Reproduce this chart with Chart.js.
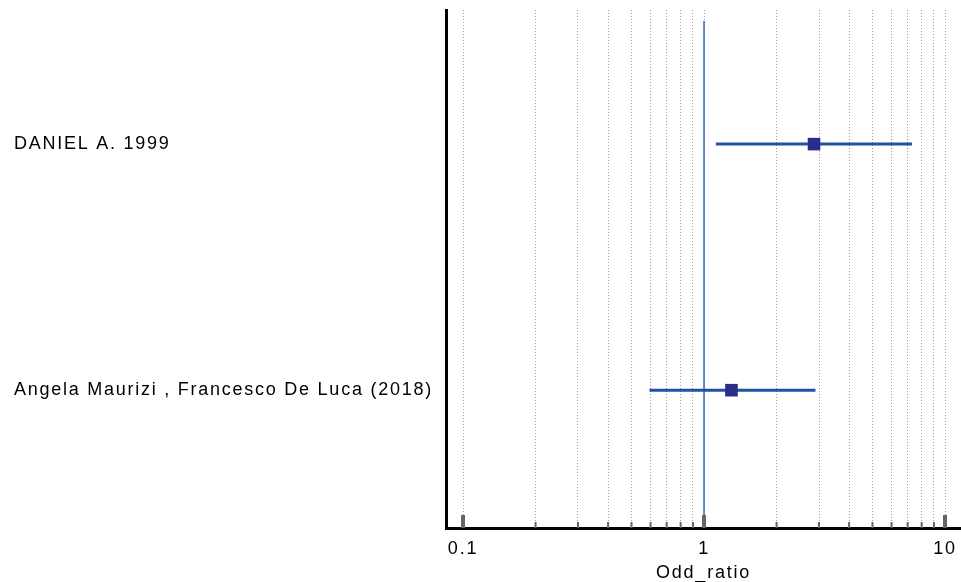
<!DOCTYPE html>
<html>
<head>
<meta charset="utf-8">
<script src="https://cdn.jsdelivr.net/npm/chart.js@4"></script>
<style>
  html, body { margin: 0; padding: 0; background: #fff; }
</style>
</head>
<body>
<canvas id="forest" width="961" height="582"></canvas>
<script>
// data
var studies = ['DANIEL A. 1999', 'Angela Maurizi , Francesco De Luca (2018)'];
var rowPos = [2, 1];
var oddRatio = [2.86, 1.30];
var ciLow = [1.12, 0.594];
var ciHigh = [7.3, 2.90];
var xTicks = [0.1, 0.2, 0.3, 0.4, 0.5, 0.6, 0.7, 0.8, 0.9, 1, 2, 3, 4, 5, 6, 7, 8, 9, 10];
var xLabels = ['0.1', '1', '10'];
var refValue = 1;

var lineColor = '#2152a0';
var boxColor = '#2b2d8a';
var fontFam = '"Liberation Sans", Arial, sans-serif';

var datasets = [];
// vertical line of no effect
datasets.push({
    data: [{ x: refValue, y: 0.44 }, { x: refValue, y: 2.5 }],
    showLine: true,
    borderColor: '#3b63c4',
    borderWidth: 1.5,
    pointRadius: 0,
    order: 3
});
// confidence intervals
for (var i = 0; i < studies.length; i++) {
    datasets.push({
        data: [{ x: ciLow[i], y: rowPos[i] }, { x: ciHigh[i], y: rowPos[i] }],
        showLine: true,
        borderColor: lineColor,
        borderWidth: 3,
        pointRadius: 0,
        order: 2
    });
}
// point estimates
datasets.push({
    data: oddRatio.map(function (v, i) { return { x: v, y: rowPos[i] }; }),
    pointStyle: 'rect',
    pointRadius: 8.9,
    pointBackgroundColor: boxColor,
    pointBorderColor: boxColor,
    pointBorderWidth: 0,
    order: 1
});

// the original text is drawn wide, so space the letters a bit
var wideText = {
    id: 'wideText',
    beforeDraw: function (chart) {
        chart.ctx.letterSpacing = '1.75px';
    }
};

// inward tick marks on the x axis
var innerTicks = {
    id: 'innerTicks',
    afterDatasetsDraw: function (chart) {
        var ctx = chart.ctx;
        var xs = chart.scales.x;
        var bottom = chart.chartArea.bottom;
        ctx.save();
        ctx.fillStyle = '#666';
        xTicks.forEach(function (v) {
            var px = xs.getPixelForValue(v);
            if (xLabels.indexOf(String(v)) >= 0) {
                ctx.fillRect(px - 2, bottom - 13, 4, 13);
            } else {
                ctx.fillRect(px - 1, bottom - 6, 2, 6);
            }
        });
        ctx.restore();
    }
};

var ctx = document.getElementById('forest').getContext('2d');
var chart = new Chart(ctx, {
    type: 'scatter',
    data: { datasets: datasets },
    plugins: [wideText, innerTicks],
    options: {
        responsive: false,
        animation: false,
        devicePixelRatio: 1,
        layout: {
            autoPadding: false,
            padding: { left: 14, top: 10, right: 0, bottom: 0 }
        },
        plugins: {
            legend: { display: false },
            tooltip: { enabled: false }
        },
        scales: {
            x: {
                type: 'logarithmic',
                min: 0.085,
                max: 11.65,
                afterBuildTicks: function (scale) {
                    scale.ticks = xTicks.map(function (v) { return { value: v }; });
                },
                afterFit: function (scale) {
                    scale.height = 54;
                    scale.paddingLeft = 0;
                    scale.paddingRight = 0;
                },
                grid: {
                    drawTicks: false,
                    color: '#a0a0a0',
                    lineWidth: 1
                },
                border: { display: true, color: '#000', width: 3, dash: [1, 2] },
                ticks: {
                    autoSkip: false,
                    maxRotation: 0,
                    padding: 10,
                    color: '#000',
                    font: { family: fontFam, size: 18 },
                    callback: function (v) {
                        var s = String(v);
                        return xLabels.indexOf(s) >= 0 ? s : '';
                    }
                },
                title: {
                    display: true,
                    text: 'Odd_ratio',
                    color: '#000',
                    font: { family: fontFam, size: 18 },
                    padding: { top: 0, bottom: -2 }
                }
            },
            y: {
                type: 'linear',
                min: 0.44,
                max: 2.545,
                afterBuildTicks: function (scale) {
                    scale.ticks = rowPos.map(function (v) { return { value: v }; });
                },
                afterFit: function (scale) {
                    scale.width = 432;
                    scale.paddingTop = 0;
                    scale.paddingBottom = 0;
                },
                grid: { display: false, drawTicks: false },
                border: { display: true, color: '#000', width: 3 },
                ticks: {
                    crossAlign: 'far',
                    color: '#000',
                    font: { family: fontFam, size: 18 },
                    callback: function (v) {
                        var k = rowPos.indexOf(v);
                        return k >= 0 ? studies[k] : '';
                    }
                }
            }
        }
    }
});
</script>
</body>
</html>
